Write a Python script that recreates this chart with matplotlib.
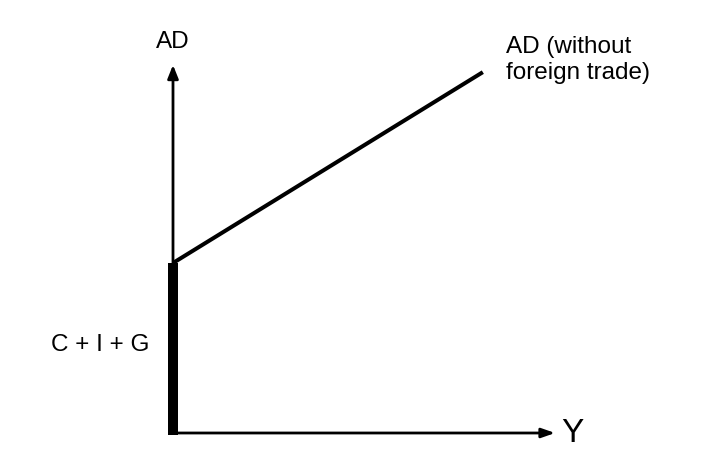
import matplotlib
matplotlib.use('Agg')
import matplotlib.pyplot as plt

# data (arbitrary units, origin at 0,0)
intercept = 4.0        # C + I + G
slope = 0.616
x_end = 7.29
yaxis_top = 8.66
xaxis_end = 8.99

plt.rcParams['font.family'] = ['Liberation Sans', 'DejaVu Sans']

s = 42.5  # px per unit
fig = plt.figure(figsize=(7.03, 4.66), dpi=100)
ax = fig.add_axes([0, 0, 1, 1])
ax.set_xlim(-173 / s, (703 - 173) / s)
ax.set_ylim(-(466 - 433) / s, 433 / s)
ax.axis('off')

# axes with arrows
ax.annotate('', xy=(0, yaxis_top), xytext=(0, 0),
            arrowprops=dict(arrowstyle='-|>,head_length=0.8,head_width=0.32',
                            color='black', lw=2.0, shrinkA=0, shrinkB=0))
ax.annotate('', xy=(xaxis_end, 0), xytext=(-0.06, 0),
            arrowprops=dict(arrowstyle='-|>,head_length=0.8,head_width=0.28',
                            color='black', lw=2.0, shrinkA=0, shrinkB=0))

# thick autonomous spending segment
ax.plot([0, 0], [-0.05, intercept], color='black', lw=7.2, solid_capstyle='butt')

# AD line
xs = [0, x_end]
ys = [intercept, intercept + slope * x_end]
ax.plot(xs, ys, color='black', lw=2.9, solid_capstyle='butt')

ax.text(0, (433 - 42) / s, 'AD', fontsize=17.5, ha='center', va='center')
ax.text((506 - 173) / s, (433 - 60) / s, 'AD (without\nforeign trade)', fontsize=17.5,
        ha='left', va='center', linespacing=1.2)
ax.text(-(173 - 100) / s, (433 - 345) / s, 'C + I + G', fontsize=17.5, ha='center', va='center')
ax.text((561 - 173) / s, 0, 'Y', fontsize=24, ha='left', va='center')

fig.savefig('out.png', dpi=100)
